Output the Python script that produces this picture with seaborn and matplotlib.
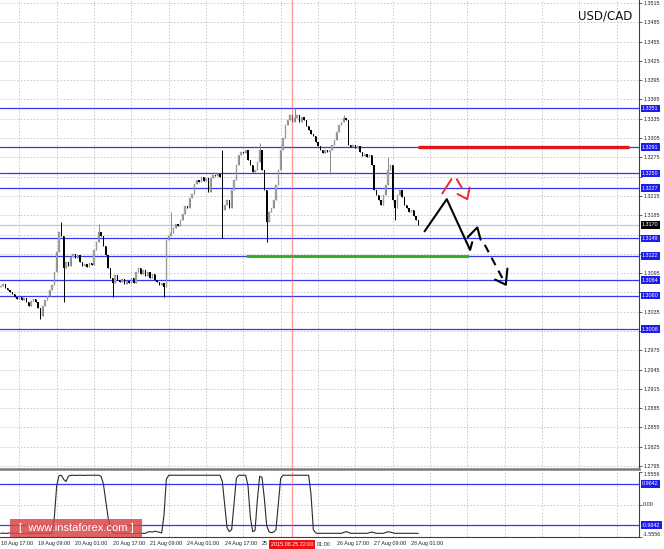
import matplotlib
matplotlib.use("Agg")
import matplotlib.pyplot as plt
import matplotlib.transforms as mtransforms
from matplotlib.patches import Rectangle
import numpy as np
import pandas as pd
import seaborn as sns

sns.set_style("white")
plt.rcParams["font.family"] = ["Liberation Sans", "DejaVu Sans"]

# ---------------- data ----------------
symbol = "USD/CAD"
first_open = 1.3073
closes = [
    1.3075, 1.3078, 1.3072, 1.3069, 1.3066, 1.3063, 1.3058, 1.3055, 1.3058, 1.3053,
    1.3056, 1.3050, 1.3044, 1.3052, 1.3055, 1.3050, 1.3041, 1.3028, 1.3044, 1.3053,
    1.3059, 1.3069, 1.3076, 1.3097, 1.3128, 1.3159, 1.3153, 1.3103, 1.3112, 1.3106,
    1.3120, 1.3125, 1.3118, 1.3123, 1.3112, 1.3106, 1.3109, 1.3104, 1.3111, 1.3108,
    1.3131, 1.3143, 1.3159, 1.3153, 1.3137, 1.3123, 1.3103, 1.3087, 1.3080, 1.3092,
    1.3084, 1.3081, 1.3086, 1.3078, 1.3083, 1.3080, 1.3087, 1.3080, 1.3097, 1.3103,
    1.3094, 1.3100, 1.3090, 1.3097, 1.3087, 1.3094, 1.3084, 1.3081, 1.3076, 1.3080,
    1.3073, 1.3146, 1.3153, 1.3157, 1.3165, 1.3171, 1.3168, 1.3178, 1.3187, 1.3199,
    1.3196, 1.3212, 1.3218, 1.3234, 1.3240, 1.3237, 1.3244, 1.3238, 1.3243, 1.3221,
    1.3243, 1.3248, 1.3246, 1.3249, 1.3244, 1.3193, 1.3201, 1.3209, 1.3196, 1.3224,
    1.3240, 1.3263, 1.3279, 1.3283, 1.3282, 1.3286, 1.3271, 1.3263, 1.3252, 1.3255,
    1.3268, 1.3286, 1.3255, 1.3224, 1.3174, 1.3190, 1.3196, 1.3209, 1.3232, 1.3255,
    1.3286, 1.3305, 1.3325, 1.3333, 1.3341, 1.3330, 1.3336, 1.3341, 1.3330, 1.3338,
    1.3333, 1.3324, 1.3318, 1.3311, 1.3308, 1.3299, 1.3293, 1.3286, 1.3282, 1.3286,
    1.3283, 1.3286, 1.3294, 1.3302, 1.3314, 1.3325, 1.3330, 1.3336, 1.3333, 1.3294,
    1.3291, 1.3294, 1.3290, 1.3293, 1.3283, 1.3277, 1.3280, 1.3276, 1.3279, 1.3263,
    1.3224, 1.3217, 1.3209, 1.3201, 1.3217, 1.3232, 1.3255, 1.3263, 1.3209, 1.3196,
    1.3217, 1.3224, 1.3213, 1.3201, 1.3196, 1.3190, 1.3193, 1.3184, 1.3178, 1.3170,
]
high_bars = [26, 42, 73, 95, 111, 126, 147, 166]
high_vals = [1.3174, 1.3171, 1.3190, 1.3286, 1.3297, 1.3352, 1.3341, 1.3276]
low_bars = [17, 27, 48, 70, 95, 114, 141, 169]
low_vals = [1.3024, 1.3050, 1.3058, 1.3058, 1.3150, 1.3143, 1.3249, 1.3178]

indicator = [
    -1.38, -1.37, -1.38, -1.38, -1.36, -1.38, -1.38, -1.37, -1.38, -1.38,
    -1.38, -1.37, -1.38, -1.38, -1.38, -1.38, -1.38, -1.37, -1.38, -1.38,
    -1.37, -1.38, -1.38, -0.60, 0.90, 1.38, 1.40, 1.20, 1.10, 1.35,
    1.40, 1.40, 1.39, 1.40, 1.40, 1.40, 1.39, 1.40, 1.40, 1.40,
    1.40, 1.40, 1.40, 1.35, 1.00, 0.20, -0.60, -1.10, -1.35, -1.38,
    -1.38, -1.38, -1.38, -1.38, -1.38, -1.38, -1.38, -1.38, -1.38, -1.38,
    -1.38, -1.38, -1.38, -1.32, -1.30, -1.32, -1.28, -1.30, -1.33, -1.36,
    -0.50, 1.20, 1.40, 1.40, 1.40, 1.40, 1.40, 1.40, 1.40, 1.40,
    1.40, 1.40, 1.40, 1.40, 1.40, 1.40, 1.40, 1.40, 1.40, 1.40,
    1.40, 1.40, 1.40, 1.40, 1.40, 1.10, 0.00, -1.10, -1.30, -1.20,
    0.00, 1.25, 1.40, 1.40, 1.40, 1.40, 0.90, -0.60, -1.30, -1.25,
    0.20, 1.35, 1.30, 0.30, -1.00, -1.30, -1.35, -1.32, -1.20, 0.00,
    1.25, 1.40, 1.40, 1.40, 1.40, 1.40, 1.40, 1.40, 1.40, 1.40,
    1.40, 1.40, 1.40, 0.50, -1.20, -1.36, -1.38, -1.38, -1.38, -1.38,
    -1.38, -1.38, -1.38, -1.38, -1.38, -1.38, -1.38, -1.34, -1.30, -1.33,
    -1.38, -1.38, -1.38, -1.38, -1.38, -1.38, -1.38, -1.38, -1.35, -1.32,
    -1.35, -1.38, -1.38, -1.38, -1.38, -1.34, -1.31, -1.32, -1.35, -1.38,
    -1.38, -1.38, -1.38, -1.38, -1.38, -1.38, -1.38, -1.38, -1.38, -1.38,
]

level_prices = [1.3351, 1.3291, 1.3250, 1.3227, 1.3149, 1.3122, 1.3084, 1.3060, 1.3008]
current_price = 1.3170
resistance_price = 1.3291
resistance_span = [178.7, 269.2]
support_price = 1.3122
support_span = [105.0, 200.6]

price_ticks = [1.3515, 1.3485, 1.3455, 1.3425, 1.3395, 1.3365, 1.3335, 1.3305,
               1.3275, 1.3245, 1.3215, 1.3185, 1.3155, 1.3125, 1.3095, 1.3065,
               1.3035, 1.3005, 1.2975, 1.2945, 1.2915, 1.2885, 1.2855, 1.2825, 1.2795]
time_labels = ["18 Aug 17:00", "19 Aug 09:00", "20 Aug 01:00", "20 Aug 17:00",
               "21 Aug 09:00", "24 Aug 01:00", "24 Aug 17:00", "25",
               "", "26 Aug 17:00", "27 Aug 09:00", "28 Aug 01:00"]
time_label_bars = [0, 16, 32, 48, 64, 80, 96, 112, 128, 144, 160, 176]
partial_label = "01:00"
partial_label_bar = 135.6
marker_bar = 125
marker_label = "2015.08.25 22:00"

osc_level = 0.9842
osc_limit = 1.5556

# forecast sketch (bar index, price)
fc_solid_x = [181.7, 191.2, 201.2, 202.1]
fc_solid_y = [1.3160, 1.3210, 1.3131, 1.3143]
fc_zig_x = [200.2, 204.3, 205.7]
fc_zig_y = [1.3151, 1.3166, 1.3147]
fc_dash_x = [207.5, 216.5]
fc_dash_y = [1.3139, 1.3077]
fc_head_x = [211.9, 216.5, 217.2]
fc_head_y = [1.3085, 1.3077, 1.3102]
red_a_x = [189.3, 193.2]
red_a_y = [1.3219, 1.3241]
red_b_x = [195.5, 197.6]
red_b_y = [1.3241, 1.3228]
red_c_x = [195.8, 200.0, 201.0]
red_c_y = [1.3218, 1.3210, 1.3228]

# ---------------- frame ----------------
opens = [first_open] + closes[:-1]
df = pd.DataFrame({"bar": np.arange(len(closes)), "open": opens, "close": closes})
df["high"] = df[["open", "close"]].max(axis=1)
df["low"] = df[["open", "close"]].min(axis=1)
df.loc[high_bars, "high"] = high_vals
df.loc[low_bars, "low"] = low_vals
df["up"] = df["close"] >= df["open"]

W, H = 664, 549
fig = plt.figure(figsize=(W / 100, H / 100), dpi=100)
ax = fig.add_axes([0, 1 - 469 / H, 639 / W, 469 / H])
ax2 = fig.add_axes([0, 1 - 537 / H, 639 / W, 65 / H])

xlim = (-0.3, 273.6)
grid_bars = np.arange(8, 274, 16)
grid_kw = dict(color="#c4c4c4", lw=0.6, ls=(0, (2, 2)))
blue = "#3535f5"

# ---- main panel ----
ax.set_xlim(*xlim)
ax.set_ylim(1.27904, 1.35197)
boxed = level_prices + [current_price]
tick_text = ["" if min(abs(v - b) for b in boxed) < 0.00075 else f"{v:.4f}"
             for v in price_ticks]
ax.set_yticks(price_ticks)
ax.set_yticklabels(tick_text)
ax.yaxis.tick_right()
ax.tick_params(axis="y", length=2, width=0.5, pad=1, labelsize=3.9, colors="#222222")
ax.set_xticks([])
ax.set_xticks(grid_bars, minor=True)
ax.tick_params(axis="x", which="both", length=0, labelbottom=False)
ax.grid(axis="y", which="major", **grid_kw)
ax.grid(axis="x", which="minor", **grid_kw)
for s in ["left", "top"]:
    ax.spines[s].set_visible(False)
ax.spines["right"].set_color("#404040")
ax.spines["right"].set_linewidth(0.8)
ax.spines["bottom"].set_color("#7a7a7a")
ax.spines["bottom"].set_linewidth(1.8)

for p in level_prices:
    ax.axhline(p, color=blue, lw=0.9, zorder=2)
ax.axhline(current_price, color="#c8c8c8", lw=0.9, zorder=2)

up = df[df.up]
dn = df[~df.up]
ax.vlines(up.bar, up.low, up.high, color="#8a8a8a", lw=0.7, zorder=3)
ax.vlines(dn.bar, dn.low, dn.high, color="black", lw=0.7, zorder=3)
ax.bar(up.bar, up.close - up.open, bottom=up.open, width=0.62, color="#a8a8a8",
       edgecolor="#7a7a7a", linewidth=0.2, zorder=4)
ax.bar(dn.bar, dn.close - dn.open, bottom=dn.open, width=0.62, color="black",
       linewidth=0, zorder=4)

ax.plot(resistance_span, [resistance_price] * 2, color="#e8141c", lw=2.4, zorder=5,
        solid_capstyle="butt")
ax.plot(support_span, [support_price] * 2, color="#26b026", lw=2.0, zorder=5,
        solid_capstyle="butt")

ax.plot(fc_solid_x, fc_solid_y, color="black", lw=1.5, zorder=6)
ax.plot(fc_zig_x, fc_zig_y, color="black", lw=1.5, zorder=6)
ax.plot(fc_dash_x, fc_dash_y, color="black", lw=1.5, ls=(0, (4, 3)), zorder=6)
ax.plot(fc_head_x, fc_head_y, color="black", lw=1.5, zorder=6)
for xs, ys in [(red_a_x, red_a_y), (red_b_x, red_b_y), (red_c_x, red_c_y)]:
    ax.plot(xs, ys, color="#f02828", lw=1.4, zorder=6)

ax.axvline(marker_bar, color="#ff5a5a", lw=1.0, alpha=0.6, zorder=7)

ytr = ax.get_yaxis_transform()
lab_kw = dict(ha="left", va="center", fontsize=3.9, color="white", zorder=10, clip_on=False)
for p in level_prices:
    ax.text(1.0045, p, f"{p:.4f}", transform=ytr,
            bbox=dict(boxstyle="square,pad=0.25", fc="#1c1cf0", ec="none"), **lab_kw)
ax.text(1.0045, current_price, f"{current_price:.4f}", transform=ytr,
        bbox=dict(boxstyle="square,pad=0.25", fc="black", ec="none"), **lab_kw)

fig.text(605 / W, 1 - 16 / H, symbol, ha="center", va="center", fontsize=8.5,
         family=["DejaVu Sans"], color="#111111")

# ---- indicator panel ----
osc = pd.DataFrame({"bar": np.arange(len(indicator)), "value": indicator})
sns.lineplot(data=osc, x="bar", y="value", ax=ax2, color="#2a2a2a", lw=0.8, zorder=4)
ax2.set_xlim(*xlim)
ax2.set_ylim(-osc_limit, osc_limit)
ax2.set_xlabel("")
ax2.set_ylabel("")
ax2.axhline(osc_level, color=blue, lw=0.9, zorder=2)
ax2.axhline(-osc_level, color=blue, lw=0.9, zorder=2)
ax2.axhline(0, **grid_kw, zorder=1)
ax2.set_yticks([osc_limit, 0, -osc_limit])
ax2.set_yticklabels([f"{osc_limit:.4f}", "0.00", f"-{osc_limit:.4f}"])
ax2.yaxis.tick_right()
ax2.tick_params(axis="y", length=2, width=0.5, pad=1, labelsize=3.9, colors="#222222")
yl = ax2.get_yticklabels()
yl[0].set_va("top")
yl[-1].set_va("bottom")
ax2.set_xticks(time_label_bars)
ax2.set_xticklabels(time_labels)
ax2.set_xticks(grid_bars, minor=True)
ax2.tick_params(axis="x", which="major", length=2, width=0.5, pad=1.2, labelsize=3.9,
                colors="#222222")
ax2.tick_params(axis="x", which="minor", length=0)
for t in ax2.get_xticklabels():
    t.set_ha("left")
ax2.grid(axis="x", which="minor", **grid_kw)
for s in ["left", "top"]:
    ax2.spines[s].set_visible(False)
for s in ["right", "bottom"]:
    ax2.spines[s].set_color("#404040")
    ax2.spines[s].set_linewidth(0.8)
ax2.axvline(marker_bar, color="#ff5a5a", lw=1.0, alpha=0.6, zorder=7)

ytr2 = ax2.get_yaxis_transform()
for p in [osc_level, -osc_level]:
    ax2.text(1.0045, p, f"{p:.4f}", transform=ytr2,
             bbox=dict(boxstyle="square,pad=0.25", fc="#1c1cf0", ec="none"), **lab_kw)

btr = mtransforms.blended_transform_factory(ax2.transData, ax2.transAxes)
ax2.text(marker_bar, -0.115, marker_label, transform=btr, ha="center", va="center",
         fontsize=3.9, color="white", zorder=10, clip_on=False,
         bbox=dict(boxstyle="square,pad=0.3", fc="#f01010", ec="none"))
ax2.text(partial_label_bar, -0.115, partial_label, transform=btr, ha="left", va="center",
         fontsize=3.9, color="#222222", clip_on=False)

# watermark
fig.add_artist(Rectangle((10 / W, 12 / H), 132 / W, 18 / H, transform=fig.transFigure,
                         fc="#d84848", ec="none", alpha=0.85, zorder=20))
fig.text(76 / W, 21 / H, "[  www.instaforex.com ]", ha="center", va="center",
         fontsize=8, color="white", zorder=21)

fig.savefig("out.png", dpi=100)
